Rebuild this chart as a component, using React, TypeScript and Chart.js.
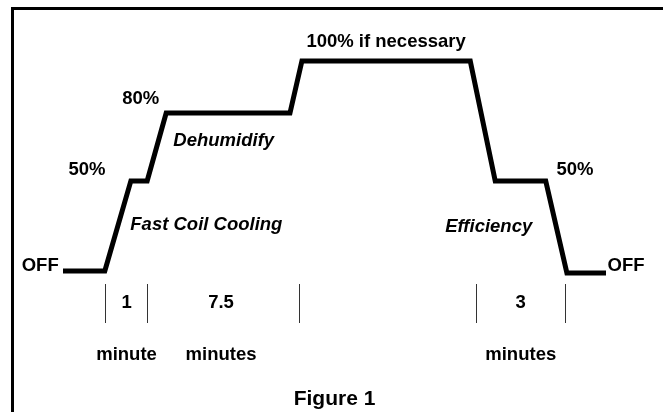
import React, { useEffect, useRef } from 'react';
import { Chart, registerables } from 'chart.js';

Chart.register(...registerables);

const FONT = '"Liberation Sans", Arial, Helvetica, sans-serif';

// Fan-speed profile: schematic time (0-100) vs. relative level (OFF = 0, 100% = 100)
const pathTimes = [0, 7.7, 12.5, 15.5, 19.0, 41.8, 44.0, 75.0, 79.6, 88.9, 92.8, 100];
const pathLevels = [0, 0, 42.9, 42.9, 75.2, 75.2, 100, 100, 42.9, 42.9, -1, -1];

// Stage boundaries along the time axis and stage durations
const boundaryTimes = [7.9, 15.5, 43.6, 76.1, 92.6];
const durationTimes = [11.7, 29.1, 84.3];
const durationValues = ['1', '7.5', '3'];
const durationUnits = ['minute', 'minutes', 'minutes'];

// Level labels
const levelLabels = ['OFF', '50%', '80%', '100% if necessary', '50%', 'OFF'];
const levelLabelTimes = [-4.2, 4.4, 14.3, 59.5, 94.3, 103.7];
const levelLabelLevels = [2.4, 48.1, 81.9, 109, 48.1, 2.4];

// Phase labels
const phaseLabels = ['Dehumidify', 'Fast Coil Cooling', 'Efficiency'];
const phaseLabelTimes = [29.6, 26.4, 78.4];
const phaseLabelLevels = [62.0, 22.0, 21];

const annotationPlugin = {
  id: 'stageAnnotations',
  afterDatasetsDraw(chart: any) {
    const { ctx } = chart;
    const x = chart.scales.x;
    const y = chart.scales.y;
    ctx.save();
    ctx.fillStyle = '#000';
    ctx.textAlign = 'center';
    ctx.textBaseline = 'middle';
    ctx.font = `bold 18.5px ${FONT}`;
    levelLabels.forEach((t, i) => {
      ctx.fillText(t, x.getPixelForValue(levelLabelTimes[i]), y.getPixelForValue(levelLabelLevels[i]));
    });
    ctx.font = `italic bold 18.5px ${FONT}`;
    phaseLabels.forEach((t, i) => {
      ctx.fillText(t, x.getPixelForValue(phaseLabelTimes[i]), y.getPixelForValue(phaseLabelLevels[i]));
    });
    ctx.restore();
  },
};

export default function App() {
  const canvasRef = useRef<HTMLCanvasElement | null>(null);

  useEffect(() => {
    const canvas = canvasRef.current;
    if (!canvas) return;
    const chart = new Chart(canvas, {
      type: 'line',
      data: {
        datasets: [
          {
            data: pathTimes.map((t, i) => ({ x: t, y: pathLevels[i] })),
            borderColor: '#000',
            borderWidth: 5,
            pointRadius: 0,
            fill: false,
            tension: 0,
            borderJoinStyle: 'miter',
            borderCapStyle: 'butt',
            clip: false,
          } as any,
        ],
      },
      options: {
        responsive: false,
        animation: false,
        devicePixelRatio: 1,
        layout: { padding: { left: 63, right: 57, top: 61, bottom: 0 } },
        plugins: {
          legend: { display: false },
          tooltip: { enabled: false },
          title: {
            display: true,
            text: 'Figure 1',
            position: 'bottom',
            color: '#000',
            font: { family: FONT, size: 21, weight: 'bold', lineHeight: 1.2 },
            padding: { top: 0, bottom: 0 },
          },
        },
        scales: {
          x: {
            type: 'linear',
            min: 0,
            max: 100,
            position: 'bottom',
            border: { display: false },
            grid: {
              drawOnChartArea: false,
              drawTicks: true,
              tickLength: 39,
              lineWidth: 1,
              tickColor: (c: any) =>
                c.tick && boundaryTimes.includes(c.tick.value) ? '#333' : 'rgba(0,0,0,0)',
            },
            ticks: {
              autoSkip: false,
              maxRotation: 0,
              minRotation: 0,
              padding: -46,
              color: '#000',
              font: { family: FONT, size: 18.5, weight: 'bold', lineHeight: '52px' } as any,
              callback: (v: any) => {
                const i = durationTimes.indexOf(v);
                return i >= 0 ? [durationValues[i], durationUnits[i]] : '';
              },
            },
            afterBuildTicks: (axis: any) => {
              axis.ticks = [...boundaryTimes, ...durationTimes]
                .sort((a, b) => a - b)
                .map((v) => ({ value: v }));
            },
            afterFit: (axis: any) => {
              axis.height = 102.8;
            },
          } as any,
          y: { type: 'linear', display: false, min: -6.2, max: 100 },
        },
      },
      plugins: [annotationPlugin],
    });
    return () => chart.destroy();
  }, []);

  return (
    <div style={{ position: 'fixed', left: 0, top: 0, width: 663, height: 412, background: '#fff', overflow: 'hidden' }}>
      <div
        style={{
          position: 'absolute',
          left: 11,
          top: 7,
          right: -10,
          bottom: -10,
          borderLeft: '3px solid #000',
          borderTop: '3px solid #000',
        }}
      />
      <canvas ref={canvasRef} width={663} height={412} style={{ position: 'absolute', left: 0, top: 0, width: 663, height: 412 }} />
    </div>
  );
}
